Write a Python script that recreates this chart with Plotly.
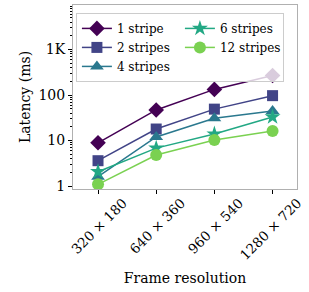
import plotly.graph_objects as go

resolutions = ["320 × 180", "640 × 360", "960 × 540", "1280 × 720"]
series_names = ["1 stripe", "2 stripes", "4 stripes", "6 stripes", "12 stripes"]
lat_1 = [8.9, 47, 133, 270]
lat_2 = [3.6, 17.9, 49, 97]
lat_4 = [1.6, 12, 31, 44.6]
lat_6 = [2.06, 6.8, 13.9, 33]
lat_12 = [1.09, 4.8, 10.3, 16.2]
series_vals = [lat_1, lat_2, lat_4, lat_6, lat_12]
colors = ["#440154", "#414487", "#2a788e", "#22a884", "#7ad151"]
symbols = ["diamond", "square", "triangle-up", "star", "circle"]
msizes = [12, 11, 12, 12, 12]
ranks = [1, 3, 5, 2, 4]

font = "DejaVu Serif"
fig = go.Figure()
for name, vals, c, s, ms, rk in zip(series_names, series_vals, colors, symbols, msizes, ranks):
    fig.add_trace(go.Scatter(
        x=resolutions, y=vals, name=name, mode="lines+markers",
        line=dict(color=c, width=1.5),
        marker=dict(symbol=s, size=ms, color=c),
        legendrank=rk,
    ))

fig.update_layout(
    width=309, height=292,
    margin=dict(l=73, r=12, t=5, b=103, autoexpand=False),
    paper_bgcolor="white", plot_bgcolor="white",
    font=dict(family=font, size=14, color="black"),
    showlegend=True,
    legend=dict(
        orientation="h", x=0.013, y=0.957, xanchor="left", yanchor="top",
        bgcolor="rgba(255,255,255,0.8)", bordercolor="#cccccc", borderwidth=1,
        font=dict(family=font, size=12),
        entrywidth=58, entrywidthmode="pixels",
        tracegroupgap=0,
    ),
)
fig.update_xaxes(
    type="category", range=[-0.43, 3.42], automargin=False,
    showline=True, linecolor="#b0b0b0", linewidth=1, mirror=True,
    ticks="outside", ticklen=4, tickcolor="black", tickangle=-45,
    tickfont=dict(family=font, size=13.5),
    ticklabelshift=25, ticklabelstandoff=-4,
    showgrid=False, zeroline=False,
    title=dict(text="Frame resolution", font=dict(family=font, size=14), standoff=11),
)
fig.update_yaxes(
    type="log", range=[-0.066, 3.98], automargin=False,
    showline=True, linecolor="#b0b0b0", linewidth=1, mirror=True,
    ticks="outside", ticklen=4, tickcolor="black",
    tickvals=[1, 10, 100, 1000], ticktext=["1", "10", "100", "1K"],
    tickfont=dict(family=font, size=14),
    minor=dict(ticks="outside", ticklen=2, tickcolor="black",
               tickvals=[m * 10 ** e for e in range(0, 4) for m in range(2, 10)]),
    showgrid=False, zeroline=False,
    title=dict(text="Latency (ms)", font=dict(family=font, size=14), standoff=4),
)
fig.write_html("out.html", config={"displayModeBar": False},
               post_script="document.body.style.margin='0';document.body.style.overflow='hidden';")
